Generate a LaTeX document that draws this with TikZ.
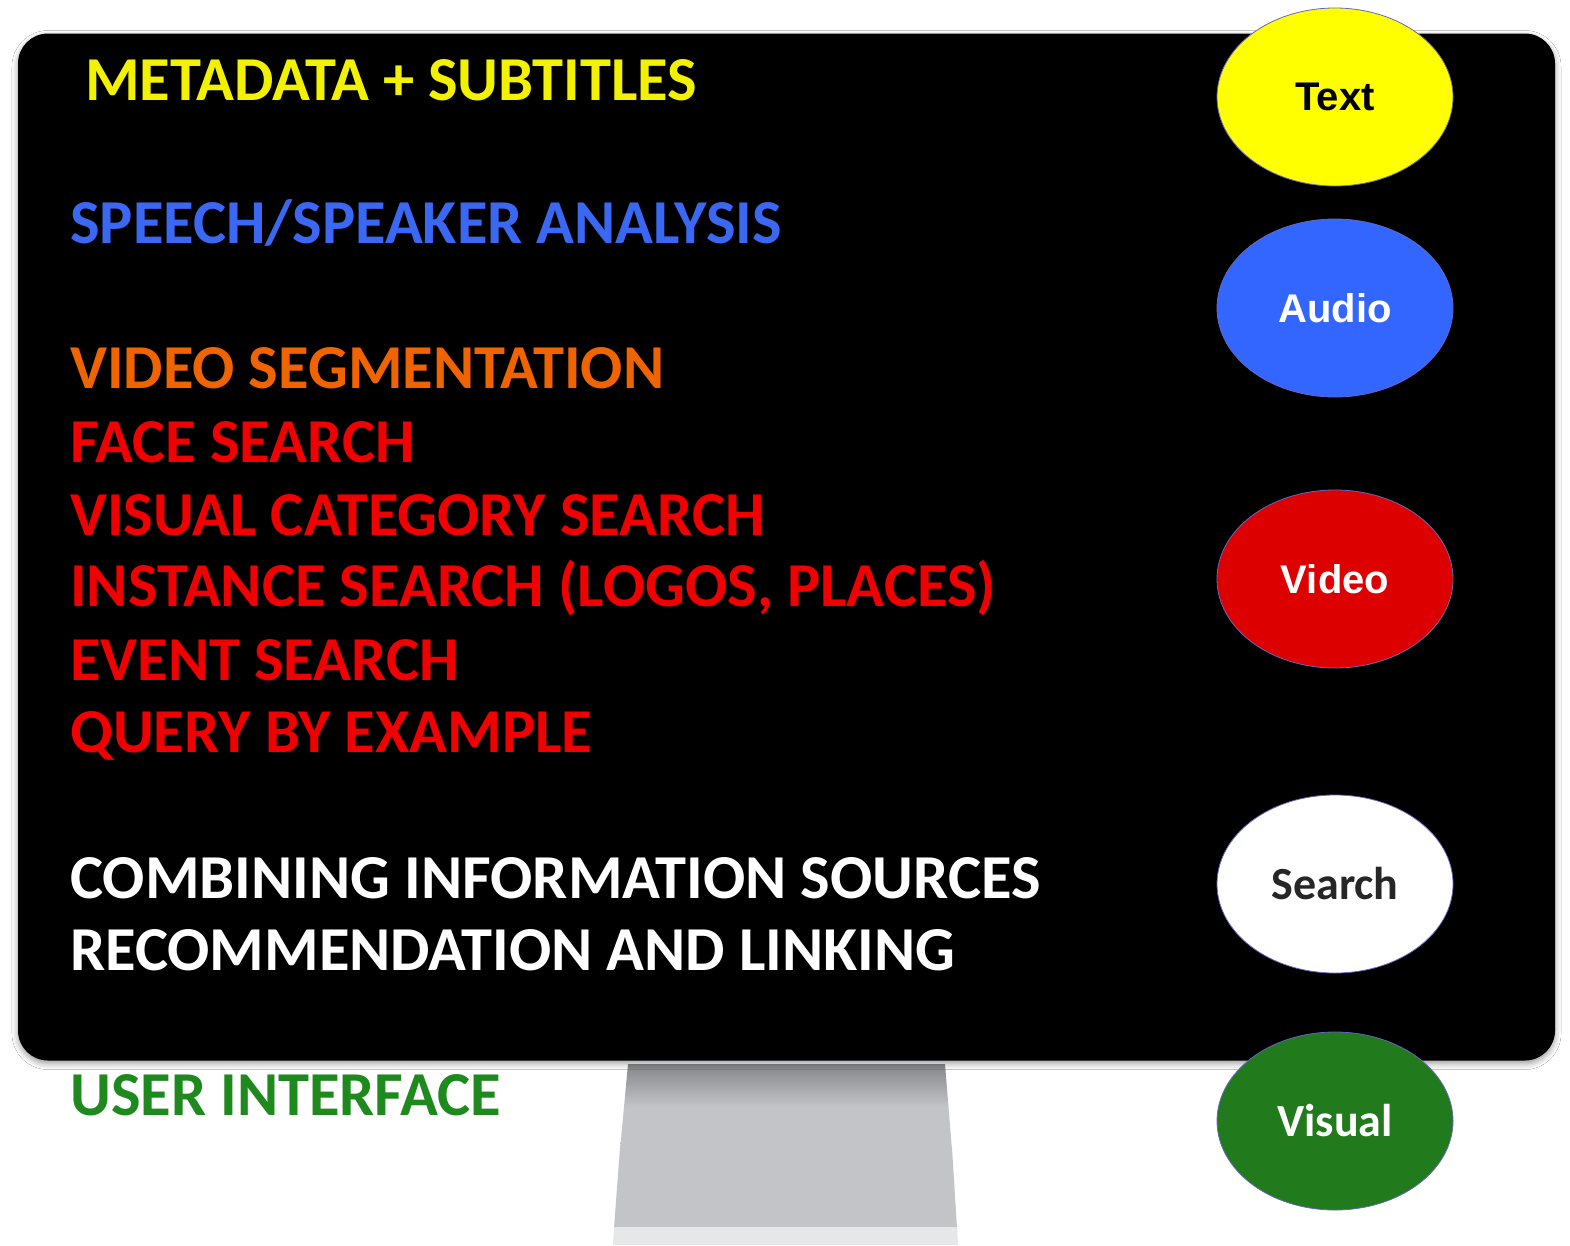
\documentclass[tikz,border=0pt]{standalone}
\usepackage{fontspec}
\setmainfont{Carlito}
\newfontfamily\arialfont{Liberation Sans}
\usetikzlibrary{shapes.geometric,shadows.blur}
\definecolor{cyel}{HTML}{F2F200}
\definecolor{cblue}{HTML}{3A68F2}
\definecolor{corange}{HTML}{F06400}
\definecolor{cred}{HTML}{F00000}
\definecolor{cgreen}{HTML}{1E8A1E}
\definecolor{eyel}{HTML}{FFFF00}
\definecolor{eblue}{HTML}{3366FF}
\definecolor{ered}{HTML}{DD0000}
\definecolor{egreen}{HTML}{217A1B}
\definecolor{standtop}{HTML}{85868A}
\definecolor{standmid}{HTML}{C3C4C8}
\definecolor{standlow}{HTML}{E6E7E9}
\tikzset{
  item/.style={anchor=base west, inner sep=0pt, font=\fontsize{62.5}{62.5}\selectfont\bfseries},
  oval/.style={ellipse, minimum width=236pt, minimum height=178pt, inner sep=0pt, draw=black!40!blue!60, line width=0.8pt},
  ovaltext/.style={font=\fontsize{46}{46}\selectfont\bfseries},
  arialtext/.style={font=\arialfont\fontsize{40}{40}\selectfont\bfseries},
}
\begin{document}
\begin{tikzpicture}[x=1pt,y=-1pt]
\useasboundingbox (0,0) rectangle (1570,1245);
\fill[white] (0,0) rectangle (1570,1245);
% stand
\shade[top color=standtop, bottom color=standmid, middle color=standmid, shading angle=0]
  (628,1064) -- (945,1064) -- (952,1150) -- (620,1150) -- cycle;
\fill[standmid] (620,1148) -- (952,1148) -- (957,1228) -- (614,1228) -- cycle;
\fill[standlow] (614,1227) -- (957,1227) -- (958,1245) -- (613,1245) -- cycle;
% monitor screen
\node[draw=none, fill=black, rounded corners=30pt, minimum width=1537pt, minimum height=1027pt,
  blur shadow={shadow xshift=0pt, shadow yshift=-3pt, shadow blur radius=6pt, shadow opacity=40}]
  (screen) at (786.5,547) {};
% texts
\node[item, text=cyel] (t1) at (85,100) {METADATA + SUBTITLES};
\node[item, text=cblue] (t2) at (70,243) {SPEECH/SPEAKER ANALYSIS};
\node[item, text=corange] (t3) at (70,388) {VIDEO SEGMENTATION};
\node[item, text=cred] (t4) at (70,462) {FACE SEARCH};
\node[item, text=cred] (t5) at (70,535) {VISUAL CATEGORY SEARCH};
\node[item, text=cred] (t6) at (70,606) {INSTANCE SEARCH (LOGOS, PLACES)};
\node[item, text=cred] (t7) at (70,680) {EVENT SEARCH};
\node[item, text=cred] (t8) at (70,752) {QUERY BY EXAMPLE};
\node[item, text=white] (t9) at (70,898) {COMBINING INFORMATION SOURCES};
\node[item, text=white] (t10) at (70,970) {RECOMMENDATION AND LINKING};
\node[item, text=cgreen] (t11) at (70,1115) {USER INTERFACE};
% ovals
\node[oval, fill=eyel] (otext) at (1335,97) {};
\node[arialtext, text=black] at (otext.center) {Text};
\node[oval, fill=eblue] (oaudio) at (1335,308) {};
\node[arialtext, text=white] at (oaudio.center) {Audio};
\node[oval, fill=ered] (ovideo) at (1335,579) {};
\node[arialtext, text=white] at (ovideo.center) {Video};
\node[oval, fill=white] (osearch) at (1335,884) {};
\node[ovaltext, text=black!85] at (osearch.center) {Search};
\node[oval, fill=egreen] (ovisual) at (1335,1121) {};
\node[ovaltext, text=white] at (ovisual.center) {Visual};
\end{tikzpicture}
\end{document}
